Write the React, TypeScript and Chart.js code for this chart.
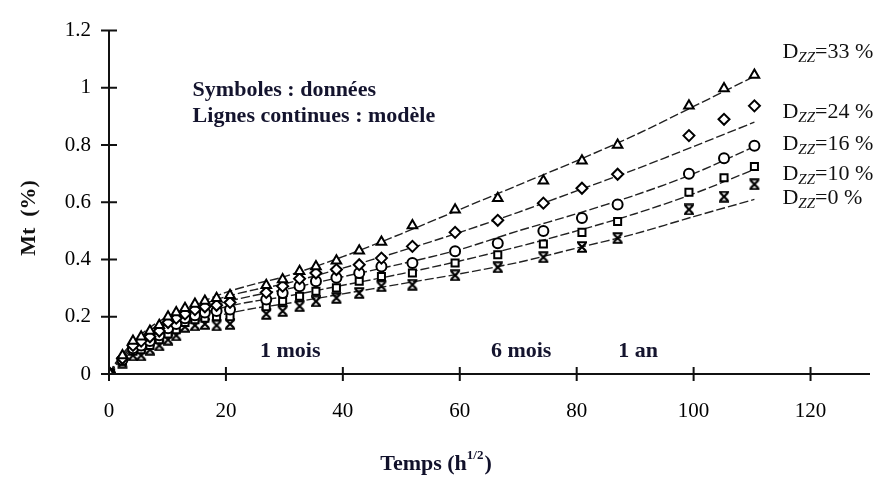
import React, { useEffect, useRef } from "react";
import { Chart, registerables } from "chart.js";

Chart.register(...registerables);

const FONT = "'Liberation Serif', 'Times New Roman', Times, serif";

// ---- Data ----
const sampleTimes = [0.2, 2.3, 4.1, 5.5, 7.0, 8.6, 10.1, 11.5, 13.0, 14.7, 16.4, 18.4, 20.7, 26.9, 29.7, 32.6, 35.4, 38.9, 42.8, 46.6, 51.9, 59.2, 66.5, 74.3, 80.9, 87.0, 99.2, 105.2, 110.4];
const mt33 = [0, 0.065, 0.115, 0.13, 0.15, 0.17, 0.2, 0.215, 0.23, 0.245, 0.255, 0.265, 0.275, 0.31, 0.33, 0.359, 0.376, 0.396, 0.431, 0.461, 0.519, 0.574, 0.614, 0.675, 0.745, 0.8, 0.937, 0.998, 1.045];
const mt24 = [0, 0.055, 0.1, 0.115, 0.13, 0.15, 0.18, 0.195, 0.21, 0.225, 0.235, 0.24, 0.25, 0.285, 0.307, 0.333, 0.353, 0.365, 0.382, 0.405, 0.446, 0.495, 0.537, 0.597, 0.649, 0.698, 0.833, 0.89, 0.937];
const mt16 = [0, 0.05, 0.09, 0.1, 0.115, 0.135, 0.16, 0.175, 0.195, 0.205, 0.215, 0.22, 0.225, 0.26, 0.283, 0.307, 0.324, 0.336, 0.353, 0.376, 0.388, 0.429, 0.457, 0.5, 0.545, 0.592, 0.7, 0.754, 0.798];
const mt10 = [0, 0.045, 0.08, 0.085, 0.1, 0.12, 0.14, 0.155, 0.18, 0.19, 0.195, 0.2, 0.2, 0.235, 0.254, 0.272, 0.289, 0.301, 0.324, 0.341, 0.353, 0.388, 0.417, 0.454, 0.495, 0.533, 0.635, 0.686, 0.725];
const mt0 = [0, 0.04, 0.065, 0.065, 0.085, 0.1, 0.12, 0.135, 0.165, 0.17, 0.175, 0.17, 0.175, 0.21, 0.22, 0.237, 0.254, 0.266, 0.283, 0.307, 0.312, 0.345, 0.373, 0.408, 0.444, 0.475, 0.575, 0.62, 0.663];

const modelTimes = [0, 1, 2.5, 5, 7.5, 10, 15, 20, 25, 30, 40, 50, 60, 70, 80, 90, 100, 110.4];
const model33 = [0, 0.035, 0.075, 0.13, 0.17, 0.2, 0.245, 0.285, 0.315, 0.34, 0.41, 0.49, 0.575, 0.66, 0.745, 0.835, 0.935, 1.04];
const model24 = [0, 0.033, 0.07, 0.12, 0.16, 0.19, 0.235, 0.27, 0.295, 0.315, 0.37, 0.43, 0.495, 0.565, 0.64, 0.715, 0.795, 0.88];
const model16 = [0, 0.03, 0.065, 0.11, 0.15, 0.178, 0.22, 0.252, 0.275, 0.295, 0.34, 0.385, 0.435, 0.5, 0.56, 0.625, 0.7, 0.795];
const model10 = [0, 0.028, 0.06, 0.1, 0.14, 0.165, 0.205, 0.235, 0.255, 0.27, 0.31, 0.35, 0.395, 0.445, 0.5, 0.56, 0.63, 0.715];
const model0 = [0, 0.025, 0.055, 0.09, 0.125, 0.15, 0.185, 0.21, 0.23, 0.245, 0.28, 0.315, 0.35, 0.39, 0.44, 0.49, 0.55, 0.61];

const xTicks = [0, 20, 40, 60, 80, 100, 120];
const yTicks = [0, 0.2, 0.4, 0.6, 0.8, 1, 1.2];

const dzzLabels = ["=33 %", "=24 %", "=16 %", "=10 %", "=0 %"];
const noteLines = ["Symboles : données", "Lignes continues : modèle"];
const periodLabels = ["1 mois", "6 mois", "1 an"];

const yTitle = "Mt  (%)";
const xTitle = "Temps (h";
const xTitleSup = "1/2";

const pts = (xs: number[], ys: number[]) => xs.map((x, i) => ({ x, y: ys[i] }));

function makeHourglass(): HTMLCanvasElement {
  const c = document.createElement("canvas");
  c.width = 12;
  c.height = 12;
  const g = c.getContext("2d")!;
  g.strokeStyle = "#000";
  g.lineWidth = 2.2;
  g.beginPath();
  g.moveTo(2, 2);
  g.lineTo(10, 10);
  g.moveTo(10, 2);
  g.lineTo(2, 10);
  g.stroke();
  g.lineWidth = 2;
  g.beginPath();
  g.moveTo(1, 1.2);
  g.lineTo(11, 1.2);
  g.moveTo(1, 10.8);
  g.lineTo(11, 10.8);
  g.stroke();
  return c;
}

const overlayPlugin = {
  id: "overlay",
  afterDraw(chart: any) {
    const { ctx, chartArea, scales } = chart;
    const x = scales.x;
    const y = scales.y;
    ctx.save();
    // crossing tick marks
    ctx.strokeStyle = "#111";
    ctx.lineWidth = 2;
    ctx.beginPath();
    xTicks.forEach((v) => {
      const px = x.getPixelForValue(v);
      ctx.moveTo(px, chartArea.bottom - 7);
      ctx.lineTo(px, chartArea.bottom + 7);
    });
    yTicks.forEach((v) => {
      const py = y.getPixelForValue(v);
      ctx.moveTo(chartArea.left - 8, py);
      ctx.lineTo(chartArea.left + 8, py);
    });
    ctx.stroke();

    // y axis title
    ctx.fillStyle = "#111";
    ctx.font = `bold 22px ${FONT}`;
    ctx.textAlign = "center";
    ctx.textBaseline = "middle";
    ctx.save();
    ctx.translate(29, 218);
    ctx.rotate(-Math.PI / 2);
    ctx.fillText(yTitle, 0, 0);
    ctx.restore();

    // x axis title with superscript
    ctx.textBaseline = "alphabetic";
    ctx.textAlign = "left";
    ctx.font = `bold 22px ${FONT}`;
    const w1 = ctx.measureText(xTitle).width;
    ctx.font = `bold 13px ${FONT}`;
    const w2 = ctx.measureText(xTitleSup).width;
    ctx.font = `bold 22px ${FONT}`;
    const w3 = ctx.measureText(")").width;
    const total = w1 + w2 + w3 + 1;
    const cx = 436;
    const by = 470;
    let sx = cx - total / 2;
    ctx.fillStyle = "#10102a";
    ctx.fillText(xTitle, sx, by);
    sx += w1;
    ctx.font = `bold 13px ${FONT}`;
    ctx.fillText(xTitleSup, sx, by - 11);
    sx += w2 + 1;
    ctx.font = `bold 22px ${FONT}`;
    ctx.fillText(")", sx, by);

    // notes
    ctx.fillStyle = "#14142e";
    ctx.font = `bold 22px ${FONT}`;
    ctx.textBaseline = "middle";
    ctx.textAlign = "left";
    const nx = x.getPixelForValue(14.3);
    ctx.fillText(noteLines[0], nx, y.getPixelForValue(0.99));
    ctx.fillText(noteLines[1], nx, y.getPixelForValue(0.9));

    // period labels
    ctx.textAlign = "center";
    const periodX = [31, 70.5, 90.5];
    periodLabels.forEach((t, i) => {
      ctx.fillText(t, x.getPixelForValue(periodX[i]), y.getPixelForValue(0.08));
    });

    // D_zz labels
    const dzzY = [1.13, 0.92, 0.806, 0.703, 0.62];
    const lx = x.getPixelForValue(115.2);
    ctx.fillStyle = "#111";
    ctx.textAlign = "left";
    ctx.textBaseline = "alphabetic";
    dzzLabels.forEach((t, i) => {
      const py = y.getPixelForValue(dzzY[i]) + 7;
      let px = lx;
      ctx.font = `22px ${FONT}`;
      ctx.fillText("D", px, py);
      px += ctx.measureText("D").width;
      ctx.font = `italic 15px ${FONT}`;
      ctx.fillText("ZZ", px, py + 4);
      px += ctx.measureText("ZZ").width;
      ctx.font = `22px ${FONT}`;
      ctx.fillText(t, px, py);
    });
    ctx.restore();
  },
};

export default function App() {
  const ref = useRef<HTMLCanvasElement | null>(null);

  useEffect(() => {
    if (!ref.current) return;
    const hourglass = makeHourglass();
    const lineStyle = {
      type: "line" as const,
      borderColor: "#222",
      borderWidth: 1.4,
      borderDash: [9, 3],
      pointRadius: 0,
      fill: false,
      tension: 0.3,
      order: 2,
    };
    const markerStyle = {
      type: "scatter" as const,
      borderColor: "#000",
      backgroundColor: "#fff",
      borderWidth: 2,
      pointRadius: 5,
      order: 1,
    };
    const chart = new Chart(ref.current, {
      type: "scatter",
      data: {
        datasets: [
          { ...lineStyle, label: "model 33", data: pts(modelTimes, model33) },
          { ...lineStyle, label: "model 24", data: pts(modelTimes, model24) },
          { ...lineStyle, label: "model 16", data: pts(modelTimes, model16) },
          { ...lineStyle, label: "model 10", data: pts(modelTimes, model10) },
          { ...lineStyle, label: "model 0", data: pts(modelTimes, model0) },
          { ...markerStyle, label: "Dzz 33 %", pointStyle: "triangle", pointRadius: 5.5, data: pts(sampleTimes, mt33) },
          { ...markerStyle, label: "Dzz 24 %", pointStyle: "rectRot", pointRadius: 5.5, data: pts(sampleTimes, mt24) },
          { ...markerStyle, label: "Dzz 16 %", pointStyle: "circle", data: pts(sampleTimes, mt16) },
          { ...markerStyle, label: "Dzz 10 %", pointStyle: "rect", data: pts(sampleTimes, mt10) },
          { ...markerStyle, label: "Dzz 0 %", pointStyle: hourglass as any, data: pts(sampleTimes, mt0) },
        ] as any,
      },
      options: {
        animation: false,
        responsive: false,
        maintainAspectRatio: false,
        layout: { padding: { left: 0, right: 22, top: 28, bottom: 0 } },
        plugins: {
          legend: { display: false },
          tooltip: { enabled: false },
        },
        scales: {
          x: {
            type: "linear",
            min: 0,
            max: 130,
            grid: { display: false, drawTicks: false },
            border: { display: true, color: "#111", width: 2 },
            afterBuildTicks: (s: any) => {
              s.ticks = xTicks.map((v) => ({ value: v }));
            },
            afterFit: (s: any) => {
              s.height = 114;
            },
            ticks: {
              padding: 25,
              color: "#000",
              font: { family: FONT, size: 21 },
              callback: (v: any) => String(v),
            },
          },
          y: {
            type: "linear",
            min: 0,
            max: 1.2,
            grid: { display: false, drawTicks: false },
            border: { display: true, color: "#111", width: 2 },
            afterBuildTicks: (s: any) => {
              s.ticks = yTicks.map((v) => ({ value: v }));
            },
            afterFit: (s: any) => {
              s.width = 109;
            },
            ticks: {
              padding: 18,
              color: "#000",
              font: { family: FONT, size: 21 },
              callback: (v: any) => {
                const n = Number(v);
                return Number.isInteger(n) ? String(n) : n.toFixed(1);
              },
            },
          },
        },
      },
      plugins: [overlayPlugin],
    });
    return () => chart.destroy();
  }, []);

  return (
    <div style={{ position: "absolute", left: 0, top: 0, width: 891, height: 488, background: "#fff" }}>
      <canvas ref={ref} width={891} height={488} />
    </div>
  );
}
